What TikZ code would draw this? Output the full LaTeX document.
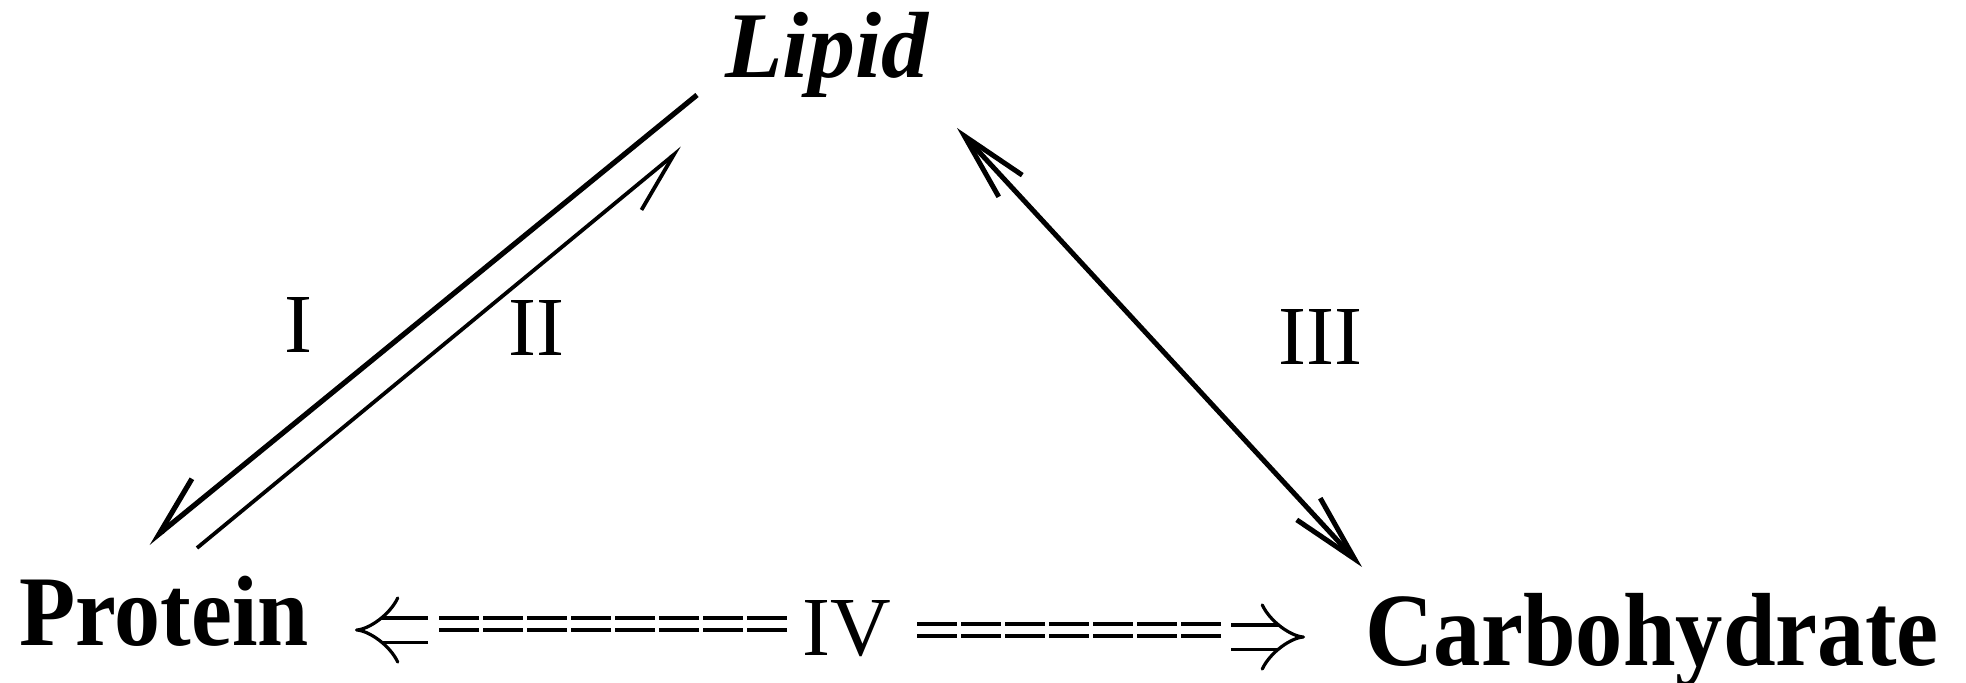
\documentclass[tikz,border=0pt]{standalone}
\usepackage{fontspec}
\setmainfont{Liberation Serif}
\usetikzlibrary{arrows.meta}
\tikzset{
  nutr/.style={font=\fontsize{25}{30}\selectfont\bfseries,inner sep=0pt,anchor=base},
  roman/.style={font=\fontsize{21}{25}\selectfont,inner sep=0pt,anchor=base},
  harp/.style={-{Straight Barb[right,length=15pt,width=11pt]}},
  both/.style={{Straight Barb[length=17pt,width=8pt]}-{Straight Barb[length=17pt,width=8pt]},line width=1.25pt},
  dbl/.style={double,double distance=2.1pt,line width=0.9pt,dash pattern=on 10pt off 1pt},
  dblhead/.style={-{Implies},double,double distance=5.25pt,line width=0.8pt},
}
\begin{document}
\begin{tikzpicture}[x=0.25pt,y=-0.25pt]
\useasboundingbox[fill=white] (0,0) rectangle (1966,683);
% the three classes
\node[nutr,font=\fontsize{23.5}{30}\selectfont\bfseries\itshape] (lip) at (827,78) {Lipid};
\node[nutr] (pro) at (164,645) {\scalebox{0.92}[1]{Protein}};
\node[nutr,font=\fontsize{26}{30}\selectfont\bfseries] (car) at (1652,665) {\scalebox{0.91}[1]{Carbohydrate}};
% pathway labels
\node[roman] (r1) at (298,353) {I};
\node[roman] (r2) at (536,355) {II};
\node[roman] (r3) at (1320,365) {III};
\node[roman] (r4) at (847,655) {IV};
% ends of the connectors
\coordinate (a1) at (697,95);  \coordinate (b1) at (148,543);
\coordinate (a2) at (197,548); \coordinate (b2) at (682,148);
\coordinate (a3) at (957,128); \coordinate (b3) at (1362,567);
\coordinate (a4) at (787,624); \coordinate (b4) at (435,624);
\coordinate (h4) at (428,630); \coordinate (t4) at (355,630);
\coordinate (a5) at (917,630); \coordinate (b5) at (1225,630);
\coordinate (h5) at (1231,637); \coordinate (t5) at (1305,637);
\draw[harp,line width=1.3pt] (a1) -- (b1);
\draw[harp,line width=0.95pt] (a2) -- (b2);
\draw[both] (a3) -- (b3);
% IV: dashed double line, open double head
\draw[dbl] (a4) -- (b4);
\draw[dblhead] (h4) -- (t4);
\draw[dbl] (a5) -- (b5);
\draw[dblhead] (h5) -- (t5);
\end{tikzpicture}
\end{document}
